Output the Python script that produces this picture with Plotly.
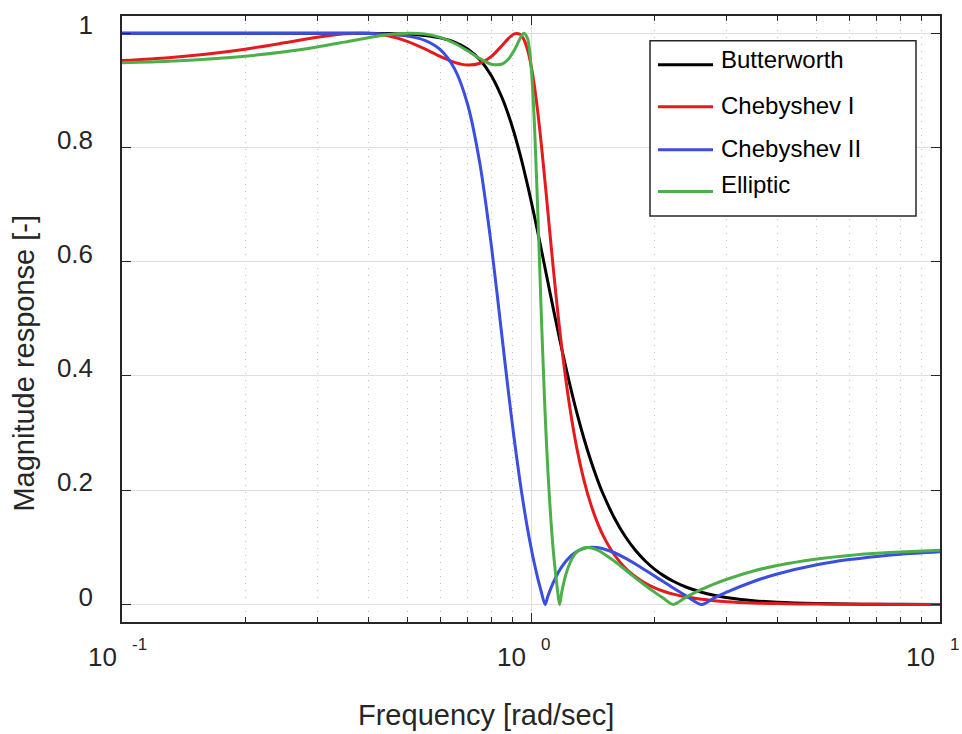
import numpy as np
import plotly.graph_objects as go

# ---------------- data ----------------
freq = [0.1, 0.13, 0.16, 0.2, 0.25, 0.3, 0.35, 0.4, 0.45, 0.5, 0.55, 0.6, 0.65, 0.7, 0.75,
        0.8, 0.85, 0.88, 0.91, 0.94, 0.96, 0.98, 0.99, 1.0, 1.01, 1.02, 1.04, 1.06, 1.0824,
        1.1, 1.12, 1.14, 1.16, 1.1745, 1.19, 1.22, 1.26, 1.3, 1.35, 1.4, 1.45, 1.5, 1.6,
        1.7, 1.8, 1.9, 2.0, 2.1, 2.2274, 2.4, 2.6131, 2.8, 3.0, 3.5, 4.0, 5.0, 6.0, 7.0,
        8.0, 10.0]

butterworth = [1.0, 1.0, 1.0, 1.0, 1.0, 0.99997, 0.99989, 0.99967, 0.99916, 0.99805,
               0.99586, 0.99171, 0.98444, 0.97237, 0.95342, 0.92538, 0.88650, 0.85761,
               0.82471, 0.78821, 0.76219, 0.73506, 0.72117, 0.70711, 0.69290, 0.67858,
               0.64976, 0.62091, 0.58885, 0.56401, 0.53637, 0.50948, 0.48346, 0.46520,
               0.44626, 0.41143, 0.36879, 0.33046, 0.28829, 0.25191, 0.22064, 0.19379,
               0.15084, 0.11888, 0.09483, 0.07651, 0.06238, 0.05135, 0.04059, 0.03013,
               0.02144, 0.01627, 0.01234, 0.00666, 0.00391, 0.00160, 0.00077, 0.00042,
               0.00024, 0.0001]

chebyshev1 = [0.9520, 0.95707, 0.96306, 0.97194, 0.98322, 0.99283, 0.99881, 0.99966,
              0.99484, 0.98509, 0.97232, 0.95926, 0.94891, 0.94414, 0.94724, 0.95926,
              0.97847, 0.99049, 0.99883, 0.99809, 0.98931, 0.97172, 0.95918, 0.94406,
              0.92635, 0.90614, 0.85903, 0.80484, 0.73923, 0.68644, 0.62742, 0.57110,
              0.51857, 0.48317, 0.44795, 0.38727, 0.32043, 0.26710, 0.21519, 0.17557,
              0.14493, 0.12093, 0.08656, 0.06392, 0.04842, 0.03746, 0.02950, 0.02359,
              0.01809, 0.01299, 0.00896, 0.00666, 0.00496, 0.00259, 0.00149, 0.00060,
              0.00028, 0.00015, 0.00009, 0.00004]

chebyshev2 = [1.0, 1.0, 1.0, 1.0, 1.0, 0.99994, 0.99977, 0.99929, 0.99799, 0.99478,
              0.98737, 0.97112, 0.93782, 0.87511, 0.77141, 0.62809, 0.46686, 0.37377,
              0.28915, 0.21521, 0.17211, 0.13381, 0.11636, 0.1, 0.08467, 0.07032,
              0.04438, 0.02178, 0.0, 0.01482, 0.02948, 0.04208, 0.05289, 0.05972,
              0.06618, 0.07653, 0.08661, 0.09333, 0.09812, 0.09992, 0.09953, 0.09755,
              0.09051, 0.08117, 0.07088, 0.06041, 0.05019, 0.04044, 0.02888, 0.01485,
              0.0, 0.01103, 0.02109, 0.04019, 0.05332, 0.06946, 0.07855, 0.08413,
              0.08780, 0.09215]

elliptic = [0.94814, 0.95087, 0.95423, 0.95958, 0.96735, 0.97582, 0.98429, 0.99183,
            0.99742, 0.99994, 0.99849, 0.99253, 0.98228, 0.96904, 0.95541, 0.94564,
            0.94593, 0.95415, 0.96985, 0.99037, 0.99966, 0.99150, 0.97427, 0.94406,
            0.89853, 0.83718, 0.67817, 0.50500, 0.33607, 0.23200, 0.14205, 0.07581,
            0.02711, 0.0, 0.02311, 0.05510, 0.08024, 0.09317, 0.09936, 0.09917,
            0.09541, 0.08967, 0.07556, 0.06072, 0.04658, 0.03364, 0.02199, 0.01159,
            0.0, 0.01322, 0.02635, 0.03561, 0.04375, 0.05849, 0.06813, 0.07953,
            0.08574, 0.08949, 0.09192, 0.09478]

series_names = ["Butterworth", "Chebyshev I", "Chebyshev II", "Elliptic"]
series_values = [butterworth, chebyshev1, chebyshev2, elliptic]
series_colors = ["#000000", "#e41a1c", "#3a4ee0", "#4daf4a"]

x_major = [0.1, 1, 10]
x_major_exp = ["-1", "0", "1"]
x_minor = [0.2, 0.3, 0.4, 0.5, 0.6, 0.7, 0.8, 0.9, 2, 3, 4, 5, 6, 7, 8, 9]
y_ticks = [0, 0.2, 0.4, 0.6, 0.8, 1.0]
y_ticktext = ["0", "0.2", "0.4", "0.6", "0.8", "1"]

x_title = "Frequency [rad/sec]"
y_title = "Magnitude response [-]"

# ---------------- layout helpers ----------------
W, H = 962, 734
PL, PR, PT, PB = 122, 940, 10, 622
FONT = "Liberation Sans, Arial, Helvetica, sans-serif"
AX = "#262626"


def px2x(px):
    return (px - PL) / (PR - PL)


def px2y(py):
    return (PB - py) / (PB - PT)


fig = go.Figure()
for name, vals, col in zip(series_names, series_values, series_colors):
    fig.add_trace(go.Scatter(x=freq, y=vals, mode="lines", name=name,
                             line=dict(color=col, width=3, shape="spline", smoothing=0.8),
                             showlegend=False))

fig.update_layout(
    width=W, height=H,
    margin=dict(l=PL, r=W - PR, t=PT, b=H - PB, pad=0),
    plot_bgcolor="white", paper_bgcolor="white",
    font=dict(family=FONT, color=AX),
    showlegend=False,
)

fig.update_xaxes(
    type="log", range=[-1, 1],
    showline=True, linecolor=AX, linewidth=1.5, mirror="allticks",
    ticks="inside", ticklen=9, tickwidth=1, tickcolor=AX,
    tickmode="array", tickvals=x_major, showticklabels=False,
    showgrid=True, gridcolor="#dedede", gridwidth=1, zeroline=False,
    minor=dict(tickmode="array", tickvals=x_minor, ticks="inside", ticklen=5,
               tickwidth=1, tickcolor=AX, showgrid=True, gridcolor="#bdbdbd",
               griddash="1px,6px", gridwidth=1),
)

fig.update_yaxes(
    range=[-0.0307, 1.030],
    showline=True, linecolor=AX, linewidth=1.5, mirror="allticks",
    ticks="inside", ticklen=9, tickwidth=1, tickcolor=AX,
    tickmode="array", tickvals=y_ticks, ticktext=y_ticktext,
    tickfont=dict(size=26, family=FONT, color=AX),
    ticklabelstandoff=22, ticklabelshift=-8,
    showgrid=True, gridcolor="#dedede", gridwidth=1, zeroline=False,
)

annotations = []
# x tick labels 10^n
for v, e in zip(x_major, x_major_exp):
    annotations.append(dict(x=np.log10(v), xref="x", y=px2y(657.5), yref="paper",
                            text="10", showarrow=False, xanchor="right", yanchor="middle",
                            xshift=-3, font=dict(size=26, family=FONT, color=AX)))
    annotations.append(dict(x=np.log10(v), xref="x", y=px2y(645), yref="paper",
                            text=e, showarrow=False, xanchor="left", yanchor="middle",
                            xshift=8, font=dict(size=17, family=FONT, color=AX)))
# axis titles
annotations.append(dict(x=px2x(486), xref="paper", y=px2y(716), yref="paper",
                        text=x_title, showarrow=False, xanchor="center", yanchor="middle",
                        font=dict(size=29, family=FONT, color=AX)))
annotations.append(dict(x=px2x(24), xref="paper", y=px2y(361), yref="paper",
                        text=y_title, textangle=-90, showarrow=False,
                        xanchor="center", yanchor="middle",
                        font=dict(size=29, family=FONT, color=AX)))

# legend (box, line samples, labels)
shapes = [dict(type="rect", xref="paper", yref="paper",
               x0=px2x(650), x1=px2x(916), y0=px2y(212), y1=px2y(35),
               line=dict(color=AX, width=1.5), fillcolor="white", layer="above")]
leg_line_y = [59.3, 101.7, 145.0, 187.3]
leg_text_y = [53.5, 100.5, 143.8, 180.5]
for name, col, ly, ty in zip(series_names, series_colors, leg_line_y, leg_text_y):
    shapes.append(dict(type="line", xref="paper", yref="paper",
                       x0=px2x(658), x1=px2x(713), y0=px2y(ly), y1=px2y(ly),
                       line=dict(color=col, width=3), layer="above"))
    annotations.append(dict(x=px2x(719), xref="paper", y=px2y(ty), yref="paper",
                            text=name, showarrow=False, xanchor="left", yanchor="middle",
                            font=dict(size=24, family=FONT, color="#000000")))

fig.update_layout(shapes=shapes, annotations=annotations)

fig.write_html("out.html")
